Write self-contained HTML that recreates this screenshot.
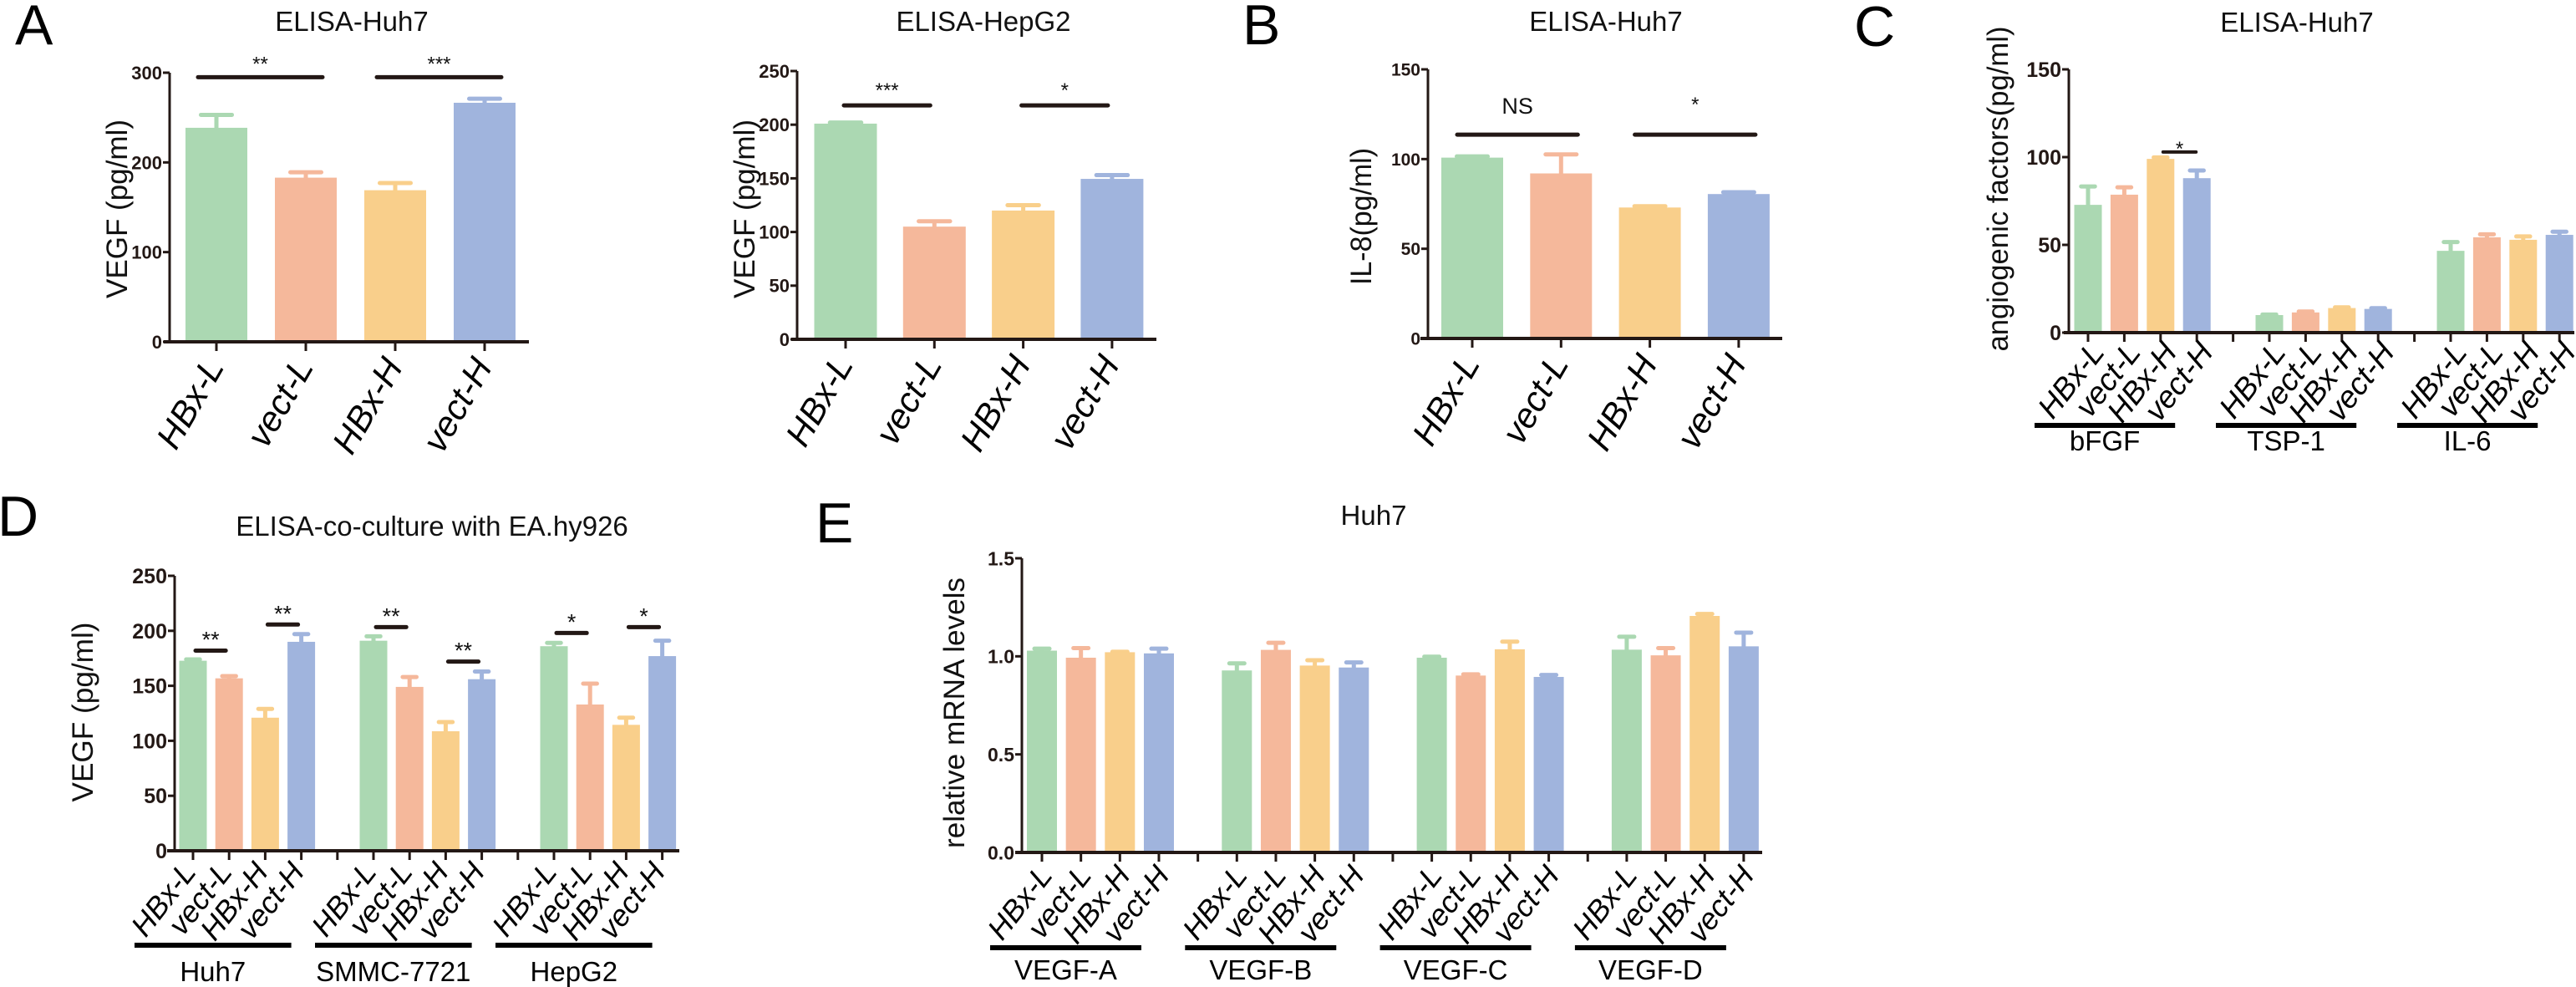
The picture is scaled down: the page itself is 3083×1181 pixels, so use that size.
<!DOCTYPE html>
<html><head><meta charset="utf-8"><style>
html,body{margin:0;padding:0;background:#fff;}
svg{display:block;font-family:"Liberation Sans",Arial,sans-serif;}
</style></head><body>
<svg id="fig" xmlns="http://www.w3.org/2000/svg" width="3083" height="1181" viewBox="0 0 3083 1181">
<rect width="3083" height="1181" fill="#fff"/>
</svg>
<script>
// ---- data ----
const condCats = ['HBx-L','vect-L','HBx-H','vect-H'];
const a1Vals = [238.6,183,169,266.5];
const a1Sem  = [14.4,6,8,4.5];
const a1Ticks = [0,100,200,300];
const a1Sig = [[0,1,295,'**'],[2,3,295,'***']];

const a2Vals = [201,105,120,149.5];
const a2Sem  = [1,5,5,3.5];
const a2Ticks = [0,50,100,150,200,250];
const a2Sig = [[0,1,218,'***'],[2,3,218,'*']];

const bVals = [100.8,92,73,80.5];
const bSem  = [0.7,10.6,0.7,1];
const bTicks = [0,50,100,150];
const bSig = [[0,1,113.6,'NS'],[2,3,113.6,'*']];

const cGroups = ['bFGF','TSP-1','IL-6'];
const cVals = [72.8,78.6,99,88, 10,11.5,14,13.5, 46.6,54.3,52.9,55.7];
const cSem  = [10.5,4.2,0.8,4.4, 0.3,0.5,0.4,0.4, 5,1.7,1.9,1.8];
const cTicks = [0,50,100,150];
const cSig = [[2,3,102.9,'*']];

const dGroups = ['Huh7','SMMC-7721','HepG2'];
const dVals = [172.8,156.8,121,190, 191,149,108.7,156, 186,133,114.5,177];
const dSem  = [1.2,2,8,7, 4,9,8.3,7, 3,19,6.5,14];
const dTicks = [0,50,100,150,200,250];
const dSig = [[0,1,182,'**'],[2,3,205.7,'**'],[4,5,203.4,'**'],[6,7,172,'**'],[8,9,198,'*'],[10,11,203.4,'*']];

const eGroups = ['VEGF-A','VEGF-B','VEGF-C','VEGF-D'];
const eVals = [1.029,0.993,1.021,1.015, 0.928,1.033,0.953,0.943, 0.993,0.902,1.036,0.895, 1.034,1.005,1.206,1.051];
const eSem  = [0.01,0.049,0.002,0.024, 0.036,0.036,0.027,0.026, 0.005,0.006,0.039,0.01, 0.066,0.037,0.01,0.07];
const eTicks = [0,0.5,1.0,1.5];
const eTickLabels = ['0.0','0.5','1.0','1.5'];

const COLORS = ['#abd8b2','#f5b89b','#f9cf8b','#a0b4dd'];
const INK = '#231815';
const NS = 'http://www.w3.org/2000/svg';
const svg = document.getElementById('fig');

function mk(tag, attrs, parent, txt){
  const e = document.createElementNS(NS, tag);
  for (const k in attrs) e.setAttribute(k, attrs[k]);
  if (txt !== undefined) e.textContent = txt;
  (parent || svg).appendChild(e);
  return e;
}

function panel(cfg, vals, sems, ticks, tickLabels, groups, sig){
  const g = mk('g', {});
  
  
  const n = 4;
  const y = v => cfg.base - v / cfg.ymax * (cfg.base - cfg.topPx);
  const slotOf = i => groups ? Math.floor(i / n) * (n + 1) + (i % n) : i;
  const sx = s => cfg.slot0 + s * cfg.slotW;
  const nSlots = groups ? groups.length * (n + 1) - 1 : vals.length;

  const t = mk('text', {x: cfg.titleX, y: cfg.titleY, 'font-size': cfg.titleSize || 33, 'text-anchor': 'middle', fill: '#111'}, g, cfg.title);
  
  
  if (cfg.letter) {
    const L = mk('text', {x: cfg.letterX, y: cfg.letterY, 'font-size': 68, fill: '#000'}, g, cfg.letter);
    
    
  }
  const yl = mk('text', {x: 0, y: 0, 'font-size': 35, 'text-anchor': 'middle', fill: '#111',
    textLength: cfg.ylabLen, lengthAdjust: 'spacingAndGlyphs',
    transform: `translate(${cfg.ylabX + 12},${cfg.ylabY}) rotate(-90)`}, g, cfg.ylab);
  
  

  vals.forEach((v, i) => {
    const cx = sx(slotOf(i));
    const col = COLORS[i % n];
    const top = y(v + sems[i]);
    const el = mk('line', {x1: cx, x2: cx, y1: y(v) + 2, y2: top, stroke: col, 'stroke-width': 5}, g);
    
    
    const cap = mk('line', {x1: cx - cfg.barW * 0.25, x2: cx + cfg.barW * 0.25, y1: top, y2: top, stroke: col, 'stroke-width': 5, 'stroke-linecap': 'round'}, g);
    
    
    const r = mk('rect', {x: cx - cfg.barW / 2, y: y(v), width: cfg.barW, height: cfg.base - y(v), fill: col}, g);
    
    
  });

  const ya = mk('line', {x1: cfg.ax, x2: cfg.ax, y1: y(ticks[ticks.length - 1]), y2: cfg.base, stroke: INK, 'stroke-width': 3}, g);
  
  
  const xa = mk('line', {x1: cfg.axStart, x2: cfg.axEnd, y1: cfg.base, y2: cfg.base, stroke: INK, 'stroke-width': 4}, g);
  
  
  ticks.forEach((tv, k) => {
    const ty = y(tv);
    const tk = mk('line', {x1: cfg.ax - 8, x2: cfg.ax, y1: ty, y2: ty, stroke: INK, 'stroke-width': 3}, g);
    
    
    const tl = mk('text', {x: cfg.ax - 9, y: ty + cfg.tickSize * 0.36, 'font-size': cfg.tickSize, 'font-weight': 'bold', 'text-anchor': 'end', fill: INK}, g, tickLabels ? tickLabels[k] : String(tv));
    
    
  });
  for (let s = 0; s < nSlots; s++) {
    const tk = mk('line', {x1: sx(s), x2: sx(s), y1: cfg.base, y2: cfg.base + 11, stroke: INK, 'stroke-width': 3}, g);
    
    
  }
  vals.forEach((v, i) => {
    const cx = sx(slotOf(i));
    const lx = cx + cfg.labDx, ly = cfg.base + cfg.labDy;
    const xl = mk('text', {x: 0, y: 0, 'font-size': cfg.labSize, 'font-style': 'italic', 'text-anchor': 'end', fill: '#000',
      transform: `translate(${lx},${ly}) rotate(${cfg.rot})`}, g, condCats[i % n]);
    
    
  });
  if (groups) {
    groups.forEach((gn, gi) => {
      const x1 = sx(gi * (n + 1)) + cfg.uL, x2 = sx(gi * (n + 1) + n - 1) + cfg.uR;
      const ul = mk('line', {x1, x2, y1: cfg.underY, y2: cfg.underY, stroke: '#000', 'stroke-width': 6}, g);
      
      
      const gl = mk('text', {x: (x1 + x2) / 2, y: cfg.groupY, 'font-size': 33, 'text-anchor': 'middle', fill: '#000'}, g, gn);
      
      
    });
  }
  (sig || []).forEach(s => {
    const x1 = sx(slotOf(s[0])) + cfg.sigL, x2 = sx(slotOf(s[1])) + cfg.sigR;
    const ly = y(s[2]);
    const sl = mk('line', {x1, x2, y1: ly, y2: ly, stroke: INK, 'stroke-width': cfg.sigW || 5, 'stroke-linecap': 'round'}, g);
    
    
    const isNS = s[3] === 'NS';
    const st = mk('text', {x: (x1 + x2) / 2, y: ly - (isNS ? cfg.nsOff : cfg.starOff), 'font-size': isNS ? 27 : cfg.starSize, 'text-anchor': 'middle', fill: '#111'}, g, s[3]);
    
    
  });
}

panel({name:'panel-a-huh7', title:'ELISA-Huh7', titleX:421, titleY:37, letter:'A', letterX:18, letterY:53,
  ylab:'VEGF (pg/ml)', ylabX:140, ylabY:250, ylabLen:214,
  ax:203, base:409, topPx:87, ymax:300, axStart:196, axEnd:633, slot0:259, slotW:107, barW:74,
  tickSize:22, labDx:10, labDy:30, labSize:42, rot:-60, sigL:-22, sigR:20, starOff:8, starSize:24},
  a1Vals, a1Sem, a1Ticks, null, null, a1Sig);

panel({name:'panel-a-hepg2', title:'ELISA-HepG2', titleX:1177, titleY:37,
  ylab:'VEGF (pg/ml)', ylabX:891, ylabY:250, ylabLen:214,
  ax:954, base:406, topPx:85, ymax:250, axStart:947, axEnd:1384, slot0:1012, slotW:106.3, barW:75,
  tickSize:22, labDx:10, labDy:30, labSize:42, rot:-60, sigL:-2, sigR:-5, starOff:10, starSize:24},
  a2Vals, a2Sem, a2Ticks, null, null, a2Sig);

panel({name:'panel-b', title:'ELISA-Huh7', titleX:1922, titleY:37, letter:'B', letterX:1487, letterY:53,
  ylab:'IL-8(pg/ml)', ylabX:1629, ylabY:259, ylabLen:164,
  ax:1709, base:405, topPx:83, ymax:150, axStart:1700, axEnd:2133, slot0:1762, slotW:106.3, barW:74,
  tickSize:21, labDx:10, labDy:30, labSize:42, rot:-60, sigL:-18, sigR:20, starOff:28, nsOff:25, starSize:24},
  bVals, bSem, bTicks, null, null, bSig);

panel({name:'panel-c', title:'ELISA-Huh7', titleX:2749, titleY:38, letter:'C', letterX:2219, letterY:55,
  ylab:'angiogenic factors(pg/ml)', ylabX:2391, ylabY:226, ylabLen:389,
  ax:2476, base:398, topPx:83, ymax:150, axStart:2470, axEnd:3081, slot0:2499, slotW:43.4, barW:33,
  tickSize:25, labDx:21, labDy:24, labSize:37, rot:-52, uL:-64, uR:-26, underY:509, groupY:539,
  sigL:3, sigR:-1, starOff:-4, starSize:24, sigW:4},
  cVals, cSem, cTicks, null, cGroups, cSig);

panel({name:'panel-d', title:'ELISA-co-culture with EA.hy926', titleX:517, titleY:641, letter:'D', letterX:-3, letterY:641,
  ylab:'VEGF (pg/ml)', ylabX:99, ylabY:852, ylabLen:215,
  ax:209, base:1018, topPx:689, ymax:250, axStart:200, axEnd:813, slot0:231, slotW:43.2, barW:33,
  tickSize:25, labDx:5, labDy:26, labSize:36, rot:-52, uL:-70, uR:-12, underY:1131, groupY:1174,
  sigL:3, sigR:-4, starOff:4, starSize:27},
  dVals, dSem, dTicks, null, dGroups, dSig);

panel({name:'panel-e', title:'Huh7', titleX:1644, titleY:628, letter:'E', letterX:976, letterY:649,
  ylab:'relative mRNA levels', ylabX:1142, ylabY:853, ylabLen:324,
  ax:1223, base:1020, topPx:668, ymax:1.5, axStart:1215, axEnd:2109, slot0:1247, slotW:46.66, barW:36,
  tickSize:23, labDx:14, labDy:28, labSize:36, rot:-52, uL:-62, uR:-21, underY:1134, groupY:1172},
  eVals, eSem, eTicks, eTickLabels, eGroups, null);
</script>
</body></html>
